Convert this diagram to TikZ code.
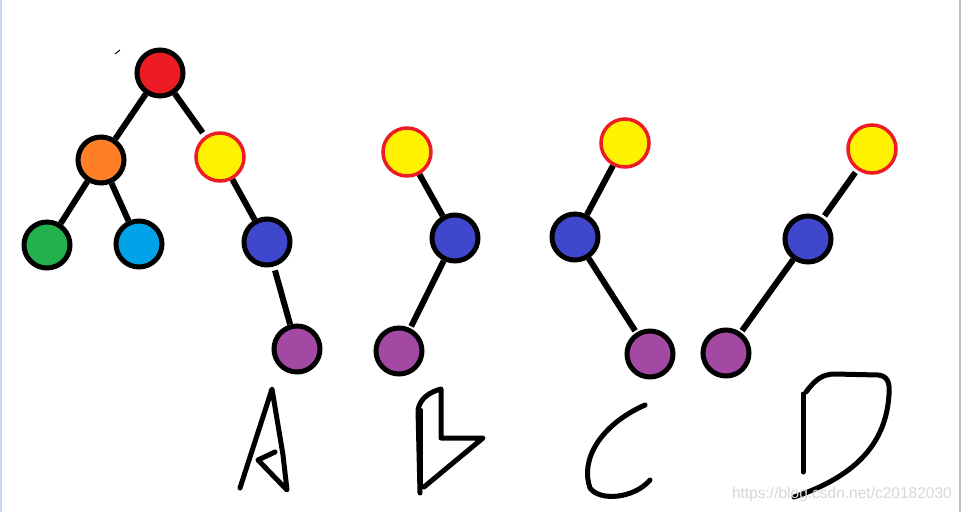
\documentclass[tikz,border=0pt]{standalone}
\usepackage{fontspec}
\setsansfont{Liberation Sans}
\definecolor{pred}{RGB}{237,28,36}
\definecolor{pyellow}{RGB}{255,242,0}
\definecolor{porange}{RGB}{255,127,39}
\definecolor{pgreen}{RGB}{34,177,76}
\definecolor{pcyan}{RGB}{0,162,232}
\definecolor{pblue}{RGB}{63,72,204}
\definecolor{ppurple}{RGB}{163,73,164}
\definecolor{edgeblue}{RGB}{200,216,236}
\definecolor{edgegray}{RGB}{190,190,190}
\definecolor{wmgray}{RGB}{215,215,215}
\begin{document}
\begin{tikzpicture}[x=1pt,y=-1pt,
  vnode/.style={circle,draw=black,line width=5pt,minimum size=46pt,inner sep=0pt},
  ynode/.style={circle,draw=pred,fill=pyellow,line width=3.5pt,minimum size=48pt,inner sep=0pt},
  edge/.style={line width=6pt,black},
  letter/.style={line width=5pt,black,line join=round,line cap=round}]
\useasboundingbox (0,0) rectangle (962,512);
\fill[white] (0,0) rectangle (962,512);
\fill[edgeblue] (0,0) rectangle (2,512);
\fill[edgegray] (959,0) rectangle (961,512);
\draw[line width=1pt] (115,54) -- (120,50);
% tree A
\node[vnode,fill=pred] (ar) at (160,73) {};
\node[vnode,fill=porange] (ao) at (101,160) {};
\node[ynode] (ay) at (220,157) {};
\node[vnode,fill=pgreen] (ag) at (47,245) {};
\node[vnode,fill=pcyan] (ac) at (139,244) {};
\node[vnode,fill=pblue] (ab) at (267,242) {};
\node[vnode,fill=ppurple] (ap) at (297,349) {};
% tree B
\node[ynode] (by) at (407,152) {};
\node[vnode,fill=pblue] (bb) at (455,238) {};
\node[vnode,fill=ppurple] (bp) at (399,351) {};
% tree C
\node[ynode] (cy) at (625,143) {};
\node[vnode,fill=pblue] (cb) at (575,237) {};
\node[vnode,fill=ppurple] (cp) at (650,354) {};
% tree D
\node[ynode] (dy) at (872,149) {};
\node[vnode,fill=pblue] (db) at (808,239) {};
\node[vnode,fill=ppurple] (dp) at (726,353) {};
% edges
\draw[edge] (ar) -- (ao);
\draw[edge,shorten >=4pt] (ar) -- (ay);
\draw[edge] (ao) -- (ag);
\draw[edge] (ao) -- (ac);
\draw[edge] (ay) -- (ab);
\draw[edge,shorten <=4pt] (ab) -- (ap);
\draw[edge] (by) -- (bb);
\draw[edge,shorten >=2pt] (bb) -- (bp);
\draw[edge] (cy) -- (cb);
\draw[edge,shorten >=2pt] (cb) -- (cp);
\draw[edge,shorten <=3pt,shorten >=3pt] (dy) -- (db);
\draw[edge,shorten >=2pt] (db) -- (dp);
% letters
\draw[letter] (240,488) -- (262,420) -- (272,389) -- (283,455) -- (287,490) -- (258,460) -- (275,452);
\draw[letter] (420,493) -- (418,410) .. controls (420,398) and (430,392) .. (441,389) -- (441,438) -- (483,438) -- (424,487);
\draw[letter,line width=4pt] (421,410) -- (421,488);
\draw[letter] (645,405) .. controls (600,425) and (580,460) .. (590,488) .. controls (600,502) and (635,498) .. (650,480);
\draw[letter] (803,394) -- (803,472);
\draw[letter] (806,392) .. controls (815,380) and (822,374) .. (835,374) -- (878,375) .. controls (888,376) and (890,383) .. (889,395) .. controls (886,440) and (860,475) .. (794,497);
\node[font=\sffamily\fontsize{15.5}{18}\selectfont,text=wmgray,anchor=east,inner sep=0pt] (wm) at (952,494) {https://blog.csdn.net/c20182030};
\end{tikzpicture}
\end{document}
